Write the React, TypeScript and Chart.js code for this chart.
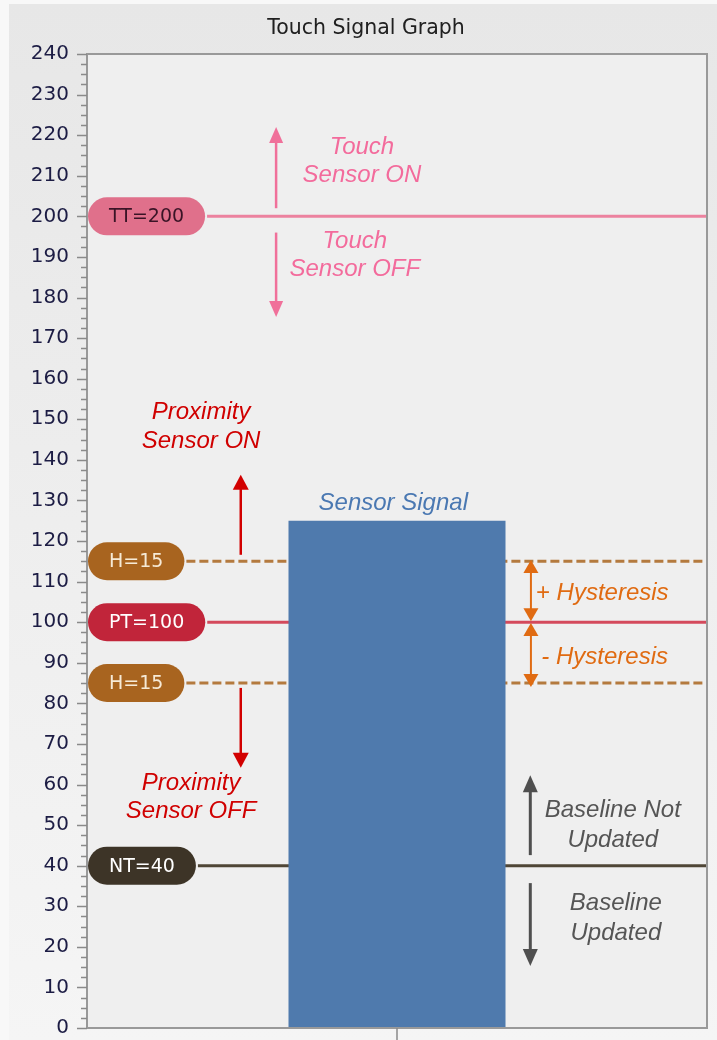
import { useEffect, useRef } from 'react';
import { Chart, registerables } from 'chart.js';

Chart.register(...registerables);

// ---- data ----
const categories = ['Sensor Signal'];
const signalValues = [125];
const yMin = 0;
const yMax = 240;
const yStep = 10;
const thresholdLabels = ['TT=200', 'H=15', 'PT=100', 'H=15', 'NT=40'];
const thresholdValues = [200, 115, 100, 85, 40];

// ---- styles ----
const thresholdStyles = [
  { fill: '#e0708b', text: '#3a1426', line: '#ec829f', dash: [] as number[] },
  { fill: '#a8641f', text: '#f6ead6', line: '#b47a3e', dash: [9, 4] },
  { fill: '#c1253a', text: '#ffffff', line: '#d44a5c', dash: [] as number[] },
  { fill: '#a8641f', text: '#f6ead6', line: '#b47a3e', dash: [9, 4] },
  { fill: '#3d3427', text: '#ffffff', line: '#4f4636', dash: [] as number[] },
];

// annotation arrows: x in % of plot width, from/to in value units
const arrowSpecs = [
  { x: 30.5, from: 202, to: 222, both: false, color: '#f0709a', lw: 2.5, hl: 16, hw: 14 },
  { x: 30.5, from: 196, to: 175.2, both: false, color: '#f0709a', lw: 2.5, hl: 16, hw: 14 },
  { x: 24.8, from: 116.6, to: 136.3, both: false, color: '#d20000', lw: 2.5, hl: 15, hw: 16 },
  { x: 24.8, from: 83.8, to: 64.1, both: false, color: '#d20000', lw: 2.5, hl: 15, hw: 16 },
  { x: 71.6, from: 115.3, to: 100.2, both: true, color: '#e06b12', lw: 2, hl: 13, hw: 15 },
  { x: 71.6, from: 99.8, to: 84.0, both: true, color: '#e06b12', lw: 2, hl: 13, hw: 15 },
  { x: 71.5, from: 42.6, to: 62.3, both: false, color: '#4f4f4f', lw: 3, hl: 17, hw: 15 },
  { x: 71.5, from: 35.7, to: 15.3, both: false, color: '#4f4f4f', lw: 3, hl: 17, hw: 15 },
];

const noteSpecs = [
  { x: 44.35, lines: ['Touch', 'Sensor ON'], ys: [217.1, 210.2], color: '#f36b9c' },
  { x: 43.2, lines: ['Touch', 'Sensor OFF'], ys: [193.9, 187.0], color: '#f36b9c' },
  { x: 18.4, lines: ['Proximity', 'Sensor ON'], ys: [151.8, 144.6], color: '#d00000' },
  { x: 16.8, lines: ['Proximity', 'Sensor OFF'], ys: [60.4, 53.5], color: '#d00000' },
  { x: 49.4, lines: ['Sensor Signal'], ys: [129.4], color: '#4a78b2' },
  { x: 83.1, lines: ['+ Hysteresis'], ys: [107.2], color: '#e06b12' },
  { x: 83.5, lines: ['- Hysteresis'], ys: [91.4], color: '#e06b12' },
  { x: 84.8, lines: ['Baseline Not', 'Updated'], ys: [53.7, 46.3], color: '#555555' },
  { x: 85.3, lines: ['Baseline', 'Updated'], ys: [30.6, 23.4], color: '#555555' },
];

const chartTitle = 'Touch Signal Graph';

function drawArrow(ctx: CanvasRenderingContext2D, x: number, y0: number, y1: number, a: any) {
  const dir = Math.sign(y1 - y0);
  ctx.save();
  ctx.strokeStyle = a.color;
  ctx.fillStyle = a.color;
  ctx.lineWidth = a.lw;
  ctx.beginPath();
  ctx.moveTo(x, a.both ? y0 + dir * (a.hl - 2) : y0);
  ctx.lineTo(x, y1 - dir * (a.hl - 2));
  ctx.stroke();
  const head = (tip: number, d: number) => {
    ctx.beginPath();
    ctx.moveTo(x, tip);
    ctx.lineTo(x - a.hw / 2, tip - d * a.hl);
    ctx.lineTo(x + a.hw / 2, tip - d * a.hl);
    ctx.closePath();
    ctx.fill();
  };
  head(y1, dir);
  if (a.both) head(y0, -dir);
  ctx.restore();
}

function roundRect(ctx: CanvasRenderingContext2D, x: number, y: number, w: number, h: number, r: number) {
  ctx.beginPath();
  ctx.moveTo(x + r, y);
  ctx.lineTo(x + w - r, y);
  ctx.arc(x + w - r, y + r, r, -Math.PI / 2, Math.PI / 2);
  ctx.lineTo(x + r, y + h);
  ctx.arc(x + r, y + r, r, Math.PI / 2, (3 * Math.PI) / 2);
  ctx.closePath();
}

const decorPlugin = {
  id: 'decor',
  beforeDraw(chart: any) {
    const { ctx, width, height, chartArea } = chart;
    ctx.save();
    ctx.fillStyle = '#f8f8f8';
    ctx.fillRect(0, 0, width, height);
    const g = ctx.createLinearGradient(0, 4, 0, height);
    g.addColorStop(0, '#e7e7e7');
    g.addColorStop(1, '#f5f5f5');
    ctx.fillStyle = g;
    ctx.fillRect(9, 4, width - 9, height - 4);
    ctx.fillStyle = '#efefef';
    ctx.fillRect(chartArea.left, chartArea.top, chartArea.right - chartArea.left, chartArea.bottom - chartArea.top);
    // title
    ctx.fillStyle = '#202020';
    ctx.font = '20.5px "DejaVu Sans"';
    ctx.textAlign = 'center';
    ctx.textBaseline = 'middle';
    ctx.fillText(chartTitle, 366, 29);
    ctx.restore();
  },
  beforeDatasetsDraw(chart: any) {
    const { ctx, chartArea, scales } = chart;
    const y = scales.y;
    ctx.save();
    ctx.font = '19px "DejaVu Sans"';
    thresholdValues.forEach((v, i) => {
      const st = thresholdStyles[i];
      const py = y.getPixelForValue(v);
      const tw = ctx.measureText(thresholdLabels[i]).width;
      const pw = tw + 42;
      const ph = 38;
      const px = chartArea.left + 1;
      // line
      ctx.strokeStyle = st.line;
      ctx.lineWidth = 3;
      ctx.setLineDash(st.dash);
      ctx.beginPath();
      ctx.moveTo(px + pw + 2, py);
      ctx.lineTo(chartArea.right, py);
      ctx.stroke();
      ctx.setLineDash([]);
      // pill
      ctx.fillStyle = st.fill;
      roundRect(ctx, px, py - ph / 2, pw, ph, ph / 2);
      ctx.fill();
      ctx.fillStyle = st.text;
      ctx.textAlign = 'center';
      ctx.textBaseline = 'middle';
      ctx.fillText(thresholdLabels[i], px + pw / 2, py + 1);
    });
    ctx.restore();
  },
  afterDatasetsDraw(chart: any) {
    const { ctx, chartArea, scales } = chart;
    const y = scales.y;
    const xp = scales.xp;
    ctx.save();
    // frame
    ctx.strokeStyle = '#999999';
    ctx.lineWidth = 2;
    ctx.strokeRect(chartArea.left, chartArea.top, chartArea.right - chartArea.left, chartArea.bottom - chartArea.top);
    // y ticks (major + minor)
    ctx.strokeStyle = '#8a8a8a';
    ctx.lineWidth = 1.5;
    for (let v = yMin; v <= yMax + 0.001; v += yStep / 4) {
      const py = Math.round(y.getPixelForValue(v)) + 0.5;
      const major = Math.abs(v / yStep - Math.round(v / yStep)) < 1e-6;
      ctx.beginPath();
      ctx.moveTo(chartArea.left - (major ? 10 : 6), py);
      ctx.lineTo(chartArea.left, py);
      ctx.stroke();
    }
    // x tick
    const cx = scales.x.getPixelForValue(0);
    ctx.beginPath();
    ctx.moveTo(cx, chartArea.bottom);
    ctx.lineTo(cx, chartArea.bottom + 12);
    ctx.stroke();
    // arrows
    arrowSpecs.forEach((a) => {
      drawArrow(ctx, xp.getPixelForValue(a.x), y.getPixelForValue(a.from), y.getPixelForValue(a.to), a);
    });
    // notes
    ctx.font = 'italic 24px "Liberation Sans"';
    ctx.textAlign = 'center';
    ctx.textBaseline = 'middle';
    noteSpecs.forEach((n) => {
      ctx.fillStyle = n.color;
      n.lines.forEach((t, i) => {
        ctx.fillText(t, xp.getPixelForValue(n.x), y.getPixelForValue(n.ys[i]));
      });
    });
    ctx.restore();
  },
};

export default function App() {
  const ref = useRef<HTMLCanvasElement | null>(null);
  useEffect(() => {
    if (!ref.current) return;
    const zeroHeight = (scale: any) => {
      scale.height = 0;
      scale.paddingLeft = 0;
      scale.paddingRight = 0;
    };
    const chart = new Chart(ref.current, {
      type: 'bar',
      data: {
        labels: categories,
        datasets: [
          {
            label: 'Sensor Signal',
            data: signalValues,
            backgroundColor: '#4f7aad',
            borderWidth: 0,
            barPercentage: 0.35,
            categoryPercentage: 1,
            xAxisID: 'x',
            yAxisID: 'y',
          },
        ],
      },
      options: {
        responsive: false,
        animation: false,
        layout: { padding: { left: 0, top: 54, right: 10, bottom: 12 } },
        plugins: { legend: { display: false }, title: { display: false }, tooltip: { enabled: false } },
        scales: {
          x: { display: false, afterFit: zeroHeight },
          xp: {
            type: 'linear',
            axis: 'x',
            position: 'bottom',
            display: false,
            offset: false,
            grid: { offset: false },
            min: 0,
            max: 100,
            afterFit: zeroHeight,
          },
          y: {
            min: yMin,
            max: yMax,
            grid: { display: false, drawTicks: false },
            border: { display: false },
            ticks: {
              stepSize: yStep,
              padding: 18,
              color: '#1c1c44',
              font: { family: 'DejaVu Sans', size: 20 },
            },
            afterFit: (scale: any) => {
              scale.width = 87;
              scale.paddingTop = 0;
              scale.paddingBottom = 0;
            },
          },
        },
      } as any,
      plugins: [decorPlugin],
    });
    return () => chart.destroy();
  }, []);
  return (
    <div style={{ position: 'absolute', left: 0, top: 0, width: 717, height: 1040 }}>
      <canvas ref={ref} width={717} height={1040} style={{ display: 'block', width: 717, height: 1040 }} />
    </div>
  );
}
